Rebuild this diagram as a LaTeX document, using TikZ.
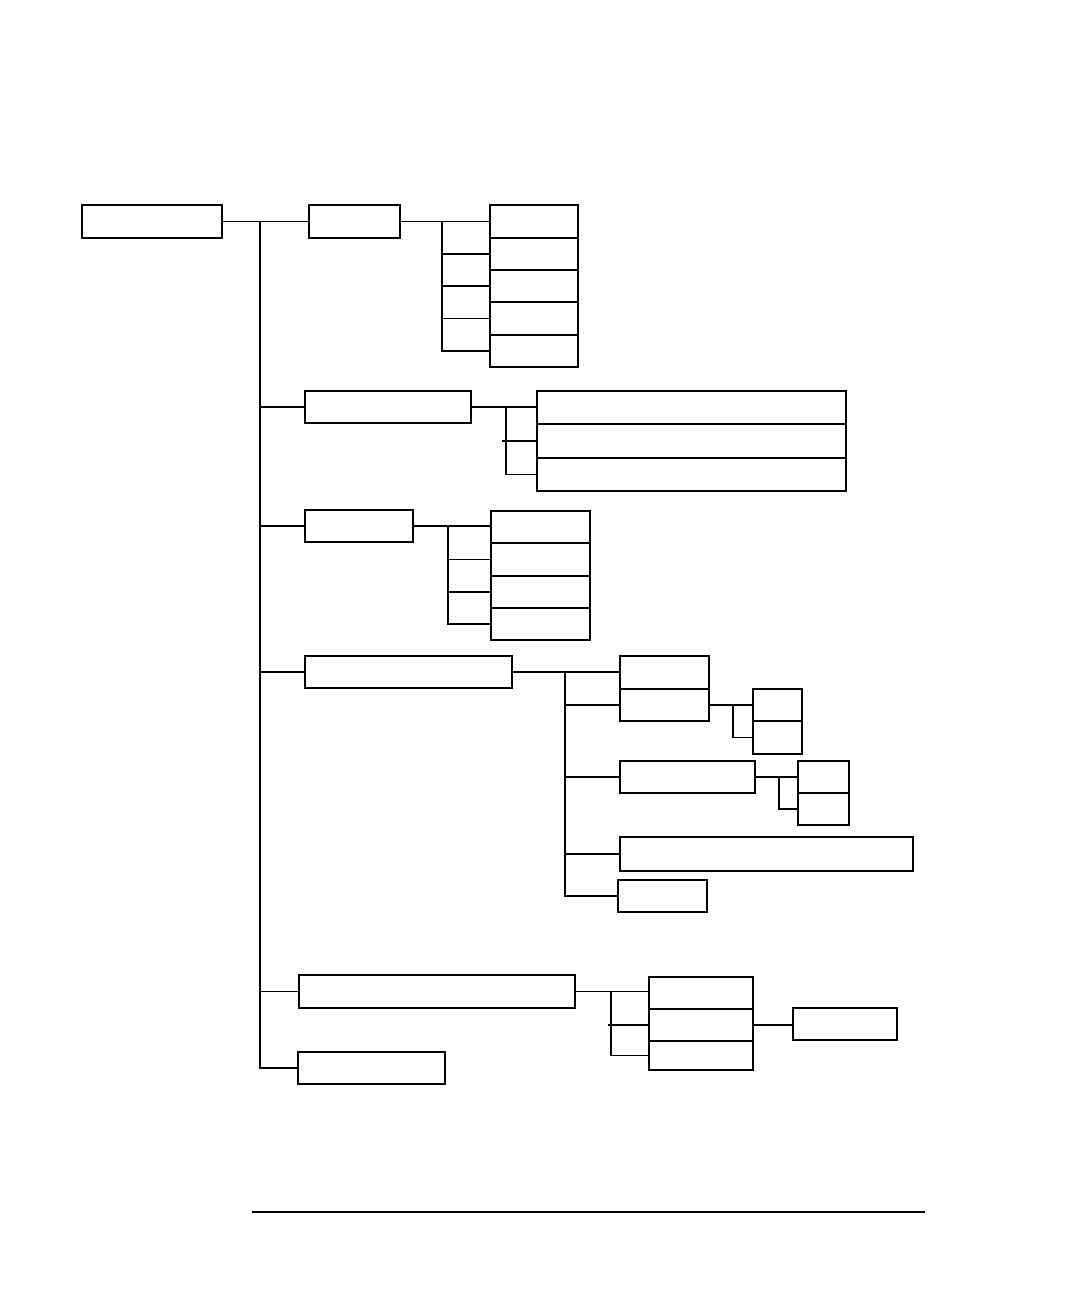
\documentclass[tikz,border=0pt]{standalone}
\begin{document}
\begin{tikzpicture}[x=1pt,y=-1pt,line width=1.2pt,
  box/.style={draw,anchor=north west,inner sep=0pt,outer sep=0pt},
  conn/.style={draw,line width=1.2pt},
  heavy/.style={line width=2.4pt}]
\useasboundingbox (0,0) rectangle (1080,1296);
\newcommand{\bx}[5]{\node[box,minimum width=#4pt,minimum height=#5pt] (#1) at (#2,#3) {};}
% root and first level
\bx{root}{82}{205}{140}{33}
\bx{A}{309}{205}{91}{33}
\bx{B}{305}{391}{166}{32}
\bx{C}{305}{510}{108}{32}
\bx{D}{305}{656}{207}{32}
\bx{E}{299}{975}{276}{33}
\bx{G}{298}{1052}{147}{32}
% A children
\bx{A1}{490}{205}{88}{33}
\bx{A2}{490}{238}{88}{32}
\bx{A3}{490}{270}{88}{32}
\bx{A4}{490}{302}{88}{33}
\bx{A5}{490}{335}{88}{32}
% B children
\bx{B1}{537}{391}{309}{33}
\bx{B2}{537}{424}{309}{34}
\bx{B3}{537}{458}{309}{33}
% C children
\bx{C1}{491}{511}{99}{32}
\bx{C2}{491}{543}{99}{33}
\bx{C3}{491}{576}{99}{32}
\bx{C4}{491}{608}{99}{32}
% D children
\bx{D1}{620}{656}{89}{33}
\bx{D2}{620}{689}{89}{32}
\bx{D3}{620}{761}{135}{32}
\bx{D4}{620}{837}{293}{34}
\bx{D5}{618}{880}{89}{32}
\bx{Da}{753}{689}{49}{32}
\bx{Db}{753}{721}{49}{33}
\bx{Dc}{798}{761}{51}{32}
\bx{Dd}{798}{793}{51}{32}
% E children
\bx{E1}{649}{977}{104}{32}
\bx{E2}{649}{1009}{104}{32}
\bx{E3}{649}{1041}{104}{29}
\bx{F}{793}{1008}{104}{32}
% heavy separators
\draw[heavy] (C3.north west) -- (C3.north east);
\draw[heavy] (E3.north west) -- (E3.north east);
% trunk
\coordinate (t) at (260,221.5);
\draw[conn] (root.east) -- (root.east -| A.west);
\draw[conn] (t) |- (B.west);
\draw[conn] (t) |- (C.west);
\draw[conn] (t) |- (D.west);
\draw[conn] (t) |- (E.west);
\draw[conn] (t) |- (G.west);
% A branch
\coordinate (a) at (442,221.5);
\draw[conn] (A.east) -- (A.east -| A1.west);
\draw[conn] (a) |- (A2.west);
\draw[conn] (a) |- (A3.west);
\draw[conn] (a) |- (A4.west);
\draw[conn] (a) |- (A5.west);
% B branch
\coordinate (b) at (506,407);
\draw[conn] (B.east) -- (B.east -| B1.west);
\draw[conn] (b) |- (B3.west);
\draw[conn] (502,441) -- (B2.west);
% C branch
\coordinate (c) at (448,526);
\draw[conn] (C.east) -- (C.east -| C1.west);
\draw[conn] (c) |- (C2.west);
\draw[conn] (c) |- (C3.west);
\draw[conn] (c) |- (C4.west);
% D branch
\coordinate (d) at (565,672);
\draw[conn] (D.east) -- (D.east -| D1.west);
\draw[conn] (d) |- (D2.west);
\draw[conn] (d) |- (D3.west);
\draw[conn] (d) |- (D4.west);
\draw[conn] (d) |- (D5.west);
\coordinate (d2) at (733,705);
\draw[conn] (D2.east) -- (D2.east -| Da.west);
\draw[conn] (d2) |- (Db.west);
\coordinate (d3) at (779,777);
\draw[conn] (D3.east) -- (D3.east -| Dc.west);
\draw[conn] (d3) |- (Dd.west);
% E branch
\coordinate (e) at (611,991.5);
\draw[conn] (E.east) -- (E.east -| E1.west);
\draw[conn] (e) |- (E3.west);
\draw[conn] (608,1025) -- (E2.west);
\draw[conn] (E2.east) -- (E2.east -| F.west);
% bottom rule
\coordinate (r1) at (252,1212);
\coordinate (r2) at (925,1212);
\draw[conn] (r1) -- (r2);
\end{tikzpicture}
\end{document}
